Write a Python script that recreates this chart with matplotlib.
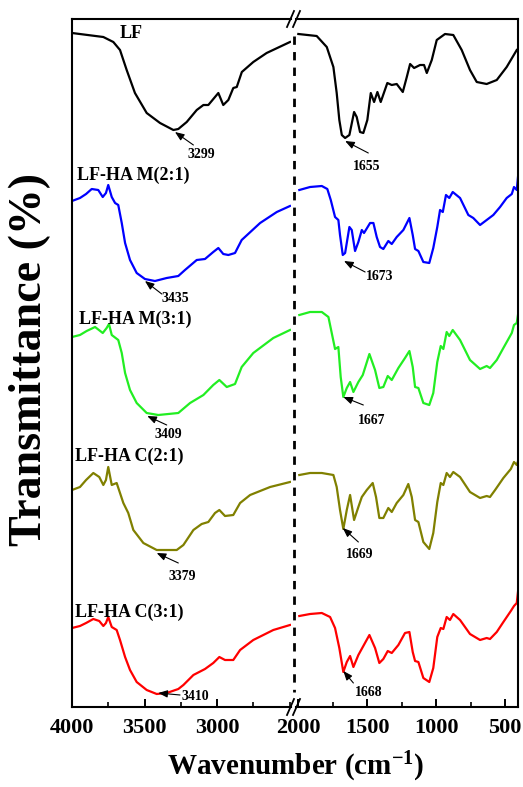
import numpy as np
import matplotlib
matplotlib.use("Agg")
import matplotlib.pyplot as plt
from matplotlib.lines import Line2D

plt.rcParams['font.family'] = ['Liberation Serif', 'DejaVu Serif']
plt.rcParams['font.weight'] = 'bold'
plt.rcParams['mathtext.fontset'] = 'custom'
plt.rcParams['mathtext.rm'] = 'Liberation Serif:bold'
plt.rcParams['mathtext.bf'] = 'Liberation Serif:bold'
plt.rcParams['mathtext.it'] = 'Liberation Serif:bold'
plt.rcParams['mathtext.default'] = 'bf'

# ---------------- data (wavenumber cm-1, stacked transmittance, arbitrary units) -------------
# LF (black)
lf_wn_hi = [4000, 3784, 3715, 3669, 3623, 3566, 3485, 3393, 3301, 3267, 3209, 3140, 3094, 3060,
            3014, 2991, 2957, 2922, 2888, 2864, 2829, 2750, 2658, 2497]
lf_t_hi = [674, 670, 665, 657, 637, 614, 594, 584, 577, 578, 585, 597, 602, 602,
           610, 614, 602, 607, 619, 620, 635, 645, 654, 665]
lf_wn_lo = [1998, 1865, 1792, 1744, 1720, 1701, 1683, 1659, 1628, 1594, 1575, 1551, 1527, 1498,
            1473, 1449, 1425, 1401, 1353, 1321, 1285, 1241, 1212, 1188, 1159, 1116, 1087, 1067,
            1031, 995, 935, 875, 814, 754, 705, 633, 560, 488, 415]
lf_t_lo = [673, 671, 660, 640, 614, 587, 572, 569, 572, 595, 590, 575, 574, 587,
           614, 605, 615, 605, 624, 622, 623, 615, 630, 643, 639, 642, 642, 634,
           647, 667, 673, 672, 657, 637, 625, 623, 627, 640, 657]

# LF-HA M(2:1) (blue)
m21_wn_hi = [4000, 3945, 3903, 3864, 3819, 3788, 3766, 3750, 3726, 3703, 3681, 3657, 3634, 3600,
             3554, 3497, 3428, 3347, 3267, 3221, 3140, 3083, 3026, 2991, 2957, 2922, 2876, 2830,
             2703, 2588, 2497]
m21_t_hi = [506, 509, 513, 518, 517, 510, 514, 522, 510, 504, 502, 484, 464, 447,
            434, 428, 426, 429, 431, 437, 447, 448, 455, 459, 453, 452, 454, 467,
            484, 495, 501]
m21_wn_lo = [1991, 1913, 1828, 1788, 1763, 1732, 1708, 1696, 1676, 1659, 1628, 1611, 1587, 1563,
             1538, 1522, 1478, 1454, 1430, 1406, 1382, 1346, 1321, 1285, 1237, 1193, 1169, 1152,
             1128, 1092, 1049, 1020, 991, 971, 951, 928, 904, 879, 826, 766, 730, 681, 633,
             585, 536, 488, 451, 435, 415, 406]
m21_t_lo = [517, 520, 521, 518, 507, 490, 487, 472, 452, 454, 480, 477, 456, 465,
            477, 474, 484, 484, 470, 460, 458, 466, 463, 470, 477, 489, 472, 458,
            456, 445, 444, 459, 480, 497, 495, 512, 509, 515, 509, 492, 489, 482, 487,
            492, 500, 509, 513, 520, 517, 530]

# LF-HA M(3:1) (green)
m31_wn_hi = [4000, 3945, 3899, 3841, 3788, 3761, 3745, 3726, 3681, 3657, 3634, 3600, 3554, 3485,
             3405, 3267, 3186, 3094, 3026, 2984, 2933, 2876, 2830, 2750, 2612, 2497]
m31_t_hi = [370, 372, 376, 380, 374, 379, 383, 372, 367, 354, 334, 317, 304, 294,
            292, 294, 304, 312, 322, 327, 320, 323, 340, 354, 369, 377]
m31_wn_lo = [1991, 1913, 1828, 1780, 1756, 1732, 1708, 1691, 1672, 1647, 1623, 1599, 1563, 1531,
             1483, 1442, 1411, 1382, 1350, 1321, 1273, 1225, 1193, 1169, 1152, 1128, 1092, 1049,
             1020, 991, 966, 947, 923, 904, 879, 826, 754, 681, 633, 609, 560, 512, 451, 435,
             415, 403]
m31_t_lo = [392, 395, 395, 390, 374, 358, 360, 330, 310, 319, 325, 315, 325, 332,
            353, 337, 319, 320, 331, 327, 339, 349, 356, 340, 320, 319, 304, 302,
            314, 345, 361, 358, 375, 371, 377, 367, 347, 338, 341, 339, 347, 359, 374, 382,
            384, 395]

# LF-HA C(2:1) (olive)
c21_wn_hi = [4000, 3945, 3903, 3853, 3812, 3784, 3766, 3750, 3726, 3692, 3669, 3646, 3612, 3577,
             3508, 3416, 3278, 3232, 3163, 3106, 3060, 3014, 2984, 2945, 2888, 2841, 2772, 2634,
             2497]
c21_t_hi = [217, 220, 227, 234, 230, 222, 227, 240, 222, 224, 214, 204, 194, 177,
            164, 157, 157, 162, 177, 183, 185, 194, 197, 191, 192, 204, 212, 220,
            225]
c21_wn_lo = [1991, 1913, 1828, 1744, 1720, 1696, 1672, 1647, 1623, 1594, 1563, 1538, 1502, 1459,
             1435, 1411, 1382, 1346, 1321, 1285, 1237, 1201, 1176, 1152, 1128, 1092, 1049, 1020,
             991, 966, 947, 923, 899, 875, 826, 754, 681, 633, 609, 572, 512, 458, 435, 415, 403]
c21_t_lo = [232, 234, 234, 232, 220, 197, 178, 197, 212, 187, 200, 210, 217, 224,
            210, 189, 189, 199, 195, 204, 212, 223, 210, 187, 185, 165, 158, 174,
            205, 224, 222, 234, 230, 235, 230, 215, 209, 211, 210, 217, 229, 238, 245, 242, 247]

# LF-HA C(3:1) (red)
c31_wn_hi = [4000, 3945, 3903, 3853, 3812, 3784, 3766, 3750, 3726, 3692, 3669, 3634, 3600, 3554,
             3485, 3416, 3347, 3267, 3232, 3163, 3083, 3026, 2984, 2945, 2888, 2841, 2750, 2612,
             2497]
c31_t_hi = [79, 81, 84, 88, 86, 81, 84, 90, 80, 77, 67, 50, 37, 25,
            17, 13, 14, 18, 22, 32, 38, 44, 50, 47, 47, 57, 67, 77,
            82]
c31_wn_lo = [1991, 1913, 1828, 1768, 1732, 1701, 1672, 1647, 1623, 1599, 1563, 1531, 1483, 1442,
             1411, 1382, 1350, 1321, 1273, 1225, 1193, 1169, 1152, 1128, 1092, 1049, 1020, 991,
             966, 947, 923, 899, 875, 826, 754, 681, 633, 609, 560, 512, 458, 435, 415, 403]
c31_t_lo = [91, 93, 94, 90, 79, 59, 35, 45, 51, 40, 52, 60, 72, 59,
            44, 48, 56, 54, 62, 74, 75, 55, 46, 45, 29, 25, 39, 70,
            79, 78, 90, 87, 93, 87, 73, 67, 69, 68, 75, 85, 96, 101, 104, 119]

series_names = ['LF', 'LF-HA M(2:1)', 'LF-HA M(3:1)', 'LF-HA C(2:1)', 'LF-HA C(3:1)']
series_colors = ['#000000', '#0000FF', '#22EE22', '#808000', '#FF0000']
series_hi = [(lf_wn_hi, lf_t_hi), (m21_wn_hi, m21_t_hi), (m31_wn_hi, m31_t_hi),
             (c21_wn_hi, c21_t_hi), (c31_wn_hi, c31_t_hi)]
series_lo = [(lf_wn_lo, lf_t_lo), (m21_wn_lo, m21_t_lo), (m31_wn_lo, m31_t_lo),
             (c21_wn_lo, c21_t_lo), (c31_wn_lo, c31_t_lo)]
# label anchor (wavenumber of left edge, vertical centre)
label_wn = [3669, 3968, 3955, 3979, 3979]
label_t = [674, 532, 388, 251, 95]

# peak annotations: (text, panel, head wn, head t, tail wn, tail t, text wn, text t)
peaks = [
    ('3299', 0, 3290, 575, 3163, 562, 3106, 552),
    ('1655', 1, 1659, 566, 1491, 554, 1502, 541),
    ('3435', 0, 3497, 426, 3381, 413, 3290, 409),
    ('1673', 1, 1667, 446, 1514, 435, 1406, 431),
    ('3409', 0, 3481, 291, 3347, 282, 3336, 272),
    ('1667', 1, 1672, 310, 1527, 302, 1466, 286),
    ('3379', 0, 3416, 154, 3267, 144, 3243, 130),
    ('1669', 1, 1676, 179, 1563, 165, 1556, 152),
    ('3410', 0, 3405, 14, 3255, 12, 3152, 11),
    ('1668', 1, 1672, 36, 1599, 24, 1491, 15),
]

# ---------------- figure ----------------
W, H = 523, 787
fig = plt.figure(figsize=(W / 100, H / 100), dpi=100)
top_px, bot_px = 19, 707
axL = fig.add_axes([72 / W, 1 - bot_px / H, (291 - 72) / W, (bot_px - top_px) / H])
axR = fig.add_axes([296 / W, 1 - bot_px / H, (518 - 296) / W, (bot_px - top_px) / H])

for ax in (axL, axR):
    ax.set_ylim(0, 688)
    ax.set_yticks([])
    for s in ax.spines.values():
        s.set_linewidth(1.5)
    ax.tick_params(axis='x', which='major', direction='in', length=6, width=1.4,
                   labelsize=16, pad=8, top=False)
    ax.tick_params(axis='x', which='minor', direction='in', length=3.5, width=1.2, top=False)

axL.set_xlim(4000, 2490)
axR.set_xlim(2015, 406)
axL.set_xticks([4000, 3500, 3000])
axL.set_xticks([3750, 3250, 2750, 2500], minor=True)
axR.set_xticks([2000, 1500, 1000, 500])
axR.set_xticks([1750, 1250, 750], minor=True)
axL.spines['right'].set_visible(False)
axR.spines['left'].set_visible(False)
for lab in axL.get_xticklabels() + axR.get_xticklabels():
    lab.set_fontweight('bold')

for (wh, th), (wl, tl), c in zip(series_hi, series_lo, series_colors):
    axL.plot(wh, th, color=c, lw=1.6)
    axR.plot(wl, tl, color=c, lw=1.6)

for name, lw_, lt in zip(series_names, label_wn, label_t):
    axL.text(lw_, lt, name, ha='left', va='center', fontsize=13, fontweight='bold')

for txt, p, hx, hy, tx, ty, sx, sy in peaks:
    ax = axL if p == 0 else axR
    ax.annotate('', xy=(hx, hy), xytext=(tx, ty),
                arrowprops=dict(arrowstyle='-|>,head_length=0.55,head_width=0.22',
                                color='black', lw=0.8, shrinkA=0, shrinkB=0))
    ax.text(sx, sy, txt, ha='center', va='center', fontsize=10, fontweight='bold')

# dashed break line and break marks
def fx(px):
    return px / W

def fy(py):
    return 1 - py / H

fig.add_artist(Line2D([fx(293.5), fx(293.5)], [fy(36), fy(692)], color='black', lw=2.0,
                      linestyle=(0, (3.0, 2.6)), transform=fig.transFigure))
for yc in (top_px, bot_px):
    for xc in (290.5, 296.5):
        fig.add_artist(Line2D([fx(xc - 3.5), fx(xc + 3.5)], [fy(yc + 8), fy(yc - 8)],
                              color='black', lw=1.3, transform=fig.transFigure))

fig.text(fx(296), fy(767), r'Wavenumber (cm$^{-1}$)', ha='center', va='center',
         fontsize=21, fontweight='bold')
fig.text(fx(30), fy(360), 'Transmittance (%)', ha='center', va='center', rotation=90,
         fontsize=33, fontweight='bold')

fig.savefig('out.png', dpi=100)
